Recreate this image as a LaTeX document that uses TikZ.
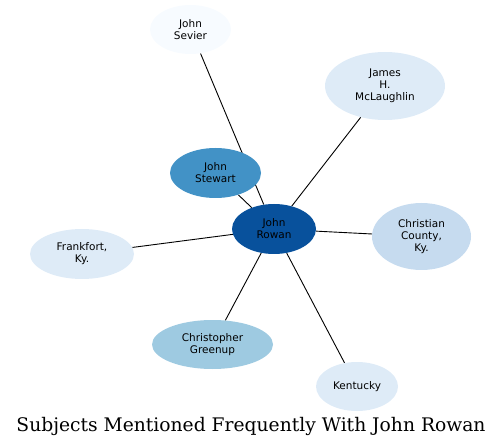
\documentclass[tikz,border=0pt]{standalone}
\usepackage{fontspec}
\setmainfont{DejaVu Sans}
\newfontfamily\titlefont{DejaVu Serif}
\usetikzlibrary{shapes.geometric,backgrounds}
\definecolor{c1}{HTML}{F7FBFF}
\definecolor{c2}{HTML}{DEEBF7}
\definecolor{c3}{HTML}{C6DBEF}
\definecolor{c4}{HTML}{9ECAE1}
\definecolor{c5}{HTML}{4292C6}
\definecolor{c6}{HTML}{08519C}
\tikzset{
  ent/.style={ellipse, inner sep=0pt, draw=none, align=center,
    font=\fontsize{10.5}{12}\selectfont},
  link/.style={draw=black, line width=0.9pt}
}
\begin{document}
\begin{tikzpicture}[x=1pt,y=-1pt]
\useasboundingbox (0,0) rectangle (503,446);
\node[ent, fill=c1, minimum width=81, minimum height=49] (sevier) at (190.5,29.5) {John\\Sevier};
\node[ent, fill=c2, minimum width=120, minimum height=68] (mcl) at (385,86) {James\\H.\\McLaughlin};
\node[ent, fill=c5, minimum width=91, minimum height=50] (stewart) at (215.5,173) {John\\Stewart};
\node[ent, fill=c6, minimum width=84, minimum height=50] (rowan) at (274,229) {John\\Rowan};
\node[ent, fill=c2, minimum width=104, minimum height=50] (frank) at (82,254) {Frankfort,\\Ky.};
\node[ent, fill=c3, minimum width=99, minimum height=67] (christ) at (421.5,236.5) {Christian\\County,\\Ky.};
\node[ent, fill=c4, minimum width=121, minimum height=49] (greenup) at (212.5,344.5) {Christopher\\Greenup};
\node[ent, fill=c2, minimum width=82, minimum height=49] (kent) at (357,386.5) {Kentucky};
\begin{pgfonlayer}{background}
\draw[link] (sevier) -- (rowan);
\draw[link] (mcl) -- (rowan);
\draw[link] (stewart) -- (rowan);
\draw[link] (frank) -- (rowan);
\draw[link] (christ) -- (rowan);
\draw[link] (greenup) -- (rowan);
\draw[link] (kent) -- (rowan);
\end{pgfonlayer}
\node[anchor=base, inner sep=0pt, font=\titlefont\fontsize{18.7}{20}\selectfont] (title) at (251,431) {Subjects Mentioned Frequently With John Rowan};
\end{tikzpicture}
\end{document}
